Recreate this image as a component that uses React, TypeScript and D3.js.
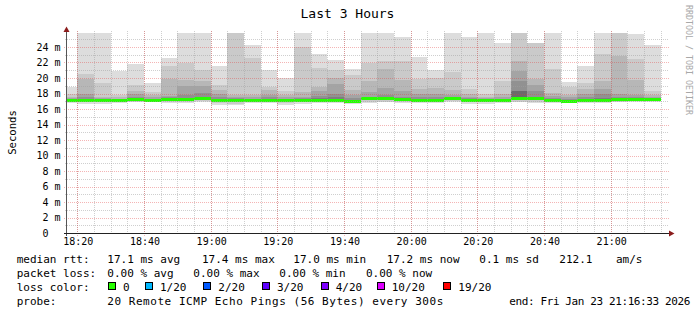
import React, { useEffect } from "react";
import * as d3 from "d3";

// ---------- data (milliseconds) ----------
const barStartHour = 18;
const barStartMinute = 15;
const barMinutes = 5;

const median = [17.15, 17.15, 17.1, 17.05, 17.2, 17.15, 17.2, 17.2, 17.35, 17.15, 17.15, 17.15, 17.15, 17.05, 17.15, 17.15, 17.15, 17.0, 17.3, 17.3, 17.2, 17.15, 17.15, 17.4, 17.15, 17.15, 17.15, 17.35, 17.35, 17.15, 17.0, 17.15, 17.15, 17.2, 17.2, 17.25];
const band1Top = [18.8, 27, 27, 20.85, 21.76, 19.4, 22.6, 27, 27, 21.6, 27, 24.3, 21.0, 20.0, 27, 23.1, 22.3, 21.2, 25.75, 27, 25.3, 22.75, 21.07, 27, 25.3, 27, 24.55, 27, 24.55, 27, 19.45, 21.5, 27, 27, 25.7, 24.3];
const band2Top = [17.9, 20.56, 19.4, 17.85, 19.1, 18.15, 21.6, 21.9, 21.07, 19.1, 27, 22.6, 18.8, 18.36, 24.0, 21.3, 21.07, 20.4, 21.9, 22.2, 22.15, 19.87, 19.95, 20.8, 18.6, 17.9, 19.56, 27, 24.5, 21.2, 18.8, 19.35, 23.1, 27, 22.5, 18.3];
const band3Top = [17.6, 19.9, 17.6, 17.5, 18.36, 17.8, 19.87, 19.8, 19.55, 18.4, 17.85, 17.85, 18.5, 17.85, 18.15, 18.8, 19.95, 18.4, 19.65, 21.2, 19.7, 18.6, 18.7, 18.4, 17.9, 17.6, 17.9, 22.2, 19.87, 18.1, 17.8, 18.6, 19.56, 22.9, 19.8, 17.8];
const band4Top = [17.45, 17.9, 17.45, 17.35, 17.9, 17.5, 17.7, 19.0, 19.0, 18.0, 17.6, 17.5, 17.85, 17.5, 17.6, 18.3, 19.26, 17.8, 18.2, 18.7, 18.3, 17.9, 17.9, 17.8, 17.6, 17.45, 17.55, 20.9, 19.05, 17.7, 17.5, 18.0, 18.6, 17.97, 17.8, 17.5];
const band5Top = [17.35, 17.5, 17.3, 17.25, 17.5, 17.3, 17.5, 17.85, 18.06, 17.5, 17.4, 17.35, 17.5, 17.3, 17.4, 17.7, 18.0, 17.4, 17.6, 17.8, 17.6, 17.5, 17.5, 17.6, 17.4, 17.35, 17.35, 19.56, 18.36, 17.45, 17.3, 17.5, 18.0, 17.6, 17.5, 17.35];
const band6Top = [17.25, 17.3, 17.2, 17.15, 17.35, 17.25, 17.35, 17.4, 17.6, 17.3, 17.3, 17.25, 17.3, 17.2, 17.3, 17.4, 17.6, 17.2, 17.45, 17.5, 17.35, 17.3, 17.3, 17.5, 17.3, 17.25, 17.25, 18.35, 17.5, 17.3, 17.1, 17.3, 17.4, 17.35, 17.3, 17.4];
const band7Top = [17.15, 17.15, 17.1, 17.05, 17.2, 17.15, 17.2, 17.2, 17.35, 17.15, 17.15, 17.15, 17.15, 17.05, 17.15, 17.15, 17.15, 17.0, 17.3, 17.3, 17.2, 17.15, 17.15, 17.4, 17.15, 17.15, 17.15, 18.3, 17.45, 17.15, 17.0, 17.15, 17.15, 17.2, 17.2, 17.25];
const band1Bot = [16.8, 16.65, 16.7, 16.8, 16.85, 17.0, 16.8, 16.8, 16.85, 16.55, 16.5, 16.75, 16.8, 16.55, 16.7, 16.75, 16.8, 16.7, 16.8, 16.85, 16.8, 16.75, 16.8, 16.9, 16.7, 16.65, 16.8, 16.85, 16.8, 16.8, 16.8, 16.75, 16.75, 16.85, 16.95, 16.9];
const band2Bot = [16.95, 16.85, 16.9, 16.95, 16.95, 17.05, 16.95, 16.95, 17.0, 16.8, 16.7, 16.9, 16.9, 16.75, 16.9, 16.9, 16.95, 16.85, 16.95, 16.95, 16.95, 16.9, 16.95, 17.0, 16.85, 16.85, 16.95, 16.95, 16.95, 16.9, 16.9, 16.9, 16.9, 16.95, 17.05, 17.0];

const bandColors = ["#dddddd", "#cacaca", "#b7b7b7", "#a4a4a4", "#919191", "#7e7e7e", "#6b6b6b"];

const yTickValues = [0, 2, 4, 6, 8, 10, 12, 14, 16, 18, 20, 22, 24];
const yMinorValues = [1, 3, 5, 7, 9, 11, 13, 15, 17, 19, 21, 23, 25];

const legendRtt = [
  { text: "median rtt:", x: 16.7 },
  { text: "17.1 ms avg", x: 107.3 },
  { text: "17.4 ms max", x: 202 },
  { text: "17.0 ms min", x: 293.3 },
  { text: "17.2 ms now", x: 386.7 },
  { text: "0.1 ms sd", x: 479.3 },
  { text: "212.1", x: 559.3 },
  { text: "am/s", x: 616 },
];
const legendLoss = [
  { text: "packet loss:", x: 16.7 },
  { text: "0.00 % avg", x: 107.3 },
  { text: "0.00 % max", x: 193.3 },
  { text: "0.00 % min", x: 279.3 },
  { text: "0.00 % now", x: 366 },
];
const lossLabels = ["0", "1/20", "2/20", "3/20", "4/20", "10/20", "19/20"];
const lossColors = ["#26ff00", "#00b8ff", "#0059ff", "#5e00ff", "#7e00ff", "#dd00ff", "#ff0000"];
const lossBoxX = [108, 145, 203.3, 262, 320.7, 376.7, 443.3];
const probeText = "20 Remote ICMP Echo Pings (56 Bytes) every 300s";
const endText = "end: Fri Jan 23 21:16:33 2026";

// ---------- layout ----------
const W = 697;
const H = 315;
const plotLeft = 67;
const plotRight = 667;
const plotTop = 33;
const plotBottom = 233;
const mono = "'DejaVu Sans Mono', monospace";

export default function App() {
  useEffect(() => {
    document.body.style.margin = "0";
  }, []);

  const t0 = new Date(2026, 0, 23, 18, 16, 54);
  const t1 = new Date(2026, 0, 23, 21, 16, 54);
  const x = d3.scaleTime().domain([t0, t1]).range([plotLeft, plotRight]);
  const y = d3.scaleLinear().domain([0, (plotBottom - plotTop) / 7.75]).range([plotBottom, plotTop]);

  const majorTimes = x.ticks(d3.timeMinute.every(20) as any);
  const minorTimes = x.ticks(d3.timeMinute.every(5) as any);
  const fmt = d3.timeFormat("%H:%M");

  const bars = median.map((m, i) => {
    const s = new Date(2026, 0, 23, barStartHour, barStartMinute + i * barMinutes, 0);
    const e = new Date(2026, 0, 23, barStartHour, barStartMinute + (i + 1) * barMinutes, 0);
    return { x0: Math.max(plotLeft, x(s)), x1: x(e), i };
  });
  const tops = [band1Top, band2Top, band3Top, band4Top, band5Top, band6Top, band7Top];
  const bots = [band1Bot, band2Bot, median, median, median, median, median];

  const crisp = (v: number) => Math.round(v) + 0.5;
  const mgrid = "rgba(225,60,60,0.38)";
  const grid = "rgba(160,160,160,0.5)";

  return (
    <svg width={W} height={H} style={{ position: "absolute", left: 0, top: 0, background: "#fff" }}>
      <defs>
        <clipPath id="plotClip">
          <rect x={plotLeft} y={plotTop} width={plotRight - plotLeft} height={plotBottom - plotTop} />
        </clipPath>
      </defs>
      <rect x={0} y={0} width={W} height={H} fill="#ffffff" />

      {/* title */}
      <text x={347.5} y={18.3} textAnchor="middle" fontFamily={mono} fontSize={13} fill="#000">
        Last 3 Hours
      </text>

      {/* smoke */}
      <g clipPath="url(#plotClip)" shapeRendering="crispEdges">
        {tops.map((arr, b) =>
          bars.map((bar) => {
            const yt = y(arr[bar.i]);
            const yb = y(bots[b][bar.i]);
            if (yb - yt <= 0) return null;
            return (
              <rect key={`b${b}-${bar.i}`} x={bar.x0} width={bar.x1 - bar.x0} y={yt} height={yb - yt} fill={bandColors[b]} />
            );
          })
        )}
        {bars.map((bar) => (
          <rect key={`m${bar.i}`} x={bar.x0} width={bar.x1 - bar.x0} y={y(median[bar.i]) - 1.5} height={3} fill={lossColors[0]} />
        ))}
      </g>

      {/* grid */}
      <g shapeRendering="crispEdges" strokeDasharray="1 1" strokeWidth={1} fill="none">
        {yMinorValues.map((v) => (
          <line key={`ym${v}`} x1={plotLeft - 2} x2={plotRight + 2} y1={crisp(y(v))} y2={crisp(y(v))} stroke={grid} />
        ))}
        {minorTimes.map((t, k) => (
          <line key={`xm${k}`} x1={crisp(x(t))} x2={crisp(x(t))} y1={plotTop - 2} y2={plotBottom + 2} stroke={grid} />
        ))}
        {yTickValues.filter((v) => v > 0).map((v) => (
          <line key={`yM${v}`} x1={plotLeft - 3} x2={plotRight + 2} y1={crisp(y(v))} y2={crisp(y(v))} stroke={mgrid} />
        ))}
        {majorTimes.map((t, k) => (
          <line key={`xM${k}`} x1={crisp(x(t))} x2={crisp(x(t))} y1={plotTop - 2} y2={plotBottom + 3} stroke={mgrid} />
        ))}
      </g>

      {/* axes */}
      <g shapeRendering="crispEdges">
        <line x1={66.5} x2={66.5} y1={30} y2={236} stroke="#555" />
        <line x1={64} x2={670} y1={233.5} y2={233.5} stroke="#222" />
      </g>
      <path d="M 66.5 26.5 L 63.5 32 L 69.5 32 Z" fill="#8b1c1c" />
      <path d="M 674.5 233.5 L 669 230.5 L 669 236.5 Z" fill="#8b1c1c" />

      {/* y labels */}
      {yTickValues.map((v) => (
        <text
          key={`yl${v}`}
          x={v === 0 ? 48.5 : 60.5}
          y={y(v) + 3.5}
          textAnchor="end"
          fontFamily={mono}
          fontSize={10}
          fill="#000"
        >
          {v === 0 ? "0" : `${v} m`}
        </text>
      ))}

      {/* x labels */}
      {majorTimes.map((t, k) => (
        <text key={`xl${k}`} x={x(t) + 1} y={244.7} textAnchor="middle" fontFamily={mono} fontSize={10} fill="#000">
          {fmt(t)}
        </text>
      ))}

      {/* y axis title */}
      <text
        transform="translate(15.5,132.5) rotate(-90)"
        textAnchor="middle"
        fontFamily={mono}
        fontSize={10.6}
        fill="#000"
      >
        Seconds
      </text>

      {/* watermark */}
      <text transform="translate(685.5,5) rotate(90)" fontFamily={mono} fontSize={8.3} fill="#a8a8a8">
        RRDTOOL / TOBI OETIKER
      </text>

      {/* legend */}
      <g fontFamily={mono} fontSize={11} fill="#000">
        {legendRtt.map((d, k) => (
          <text key={`lr${k}`} x={d.x} y={262.5} style={{ whiteSpace: "pre" }}>
            {d.text}
          </text>
        ))}
        {legendLoss.map((d, k) => (
          <text key={`ll${k}`} x={d.x} y={276.5} style={{ whiteSpace: "pre" }}>
            {d.text}
          </text>
        ))}
        <text x={16.7} y={290.5}>loss color:</text>
        {lossLabels.map((l, k) => (
          <g key={`lc${k}`}>
            <rect x={lossBoxX[k] + 0.5} y={282.5} width={7} height={7} fill={lossColors[k]} stroke="#000" strokeWidth={1} shapeRendering="crispEdges" />
            <text x={lossBoxX[k] + 15} y={290.5}>{l}</text>
          </g>
        ))}
        <text x={16.7} y={304.5}>probe:</text>
        <text x={107.3} y={304.5} textLength={336} lengthAdjust="spacing">{probeText}</text>
        <text x={509.3} y={304.5} textLength={181} lengthAdjust="spacing">{endText}</text>
      </g>
    </svg>
  );
}
